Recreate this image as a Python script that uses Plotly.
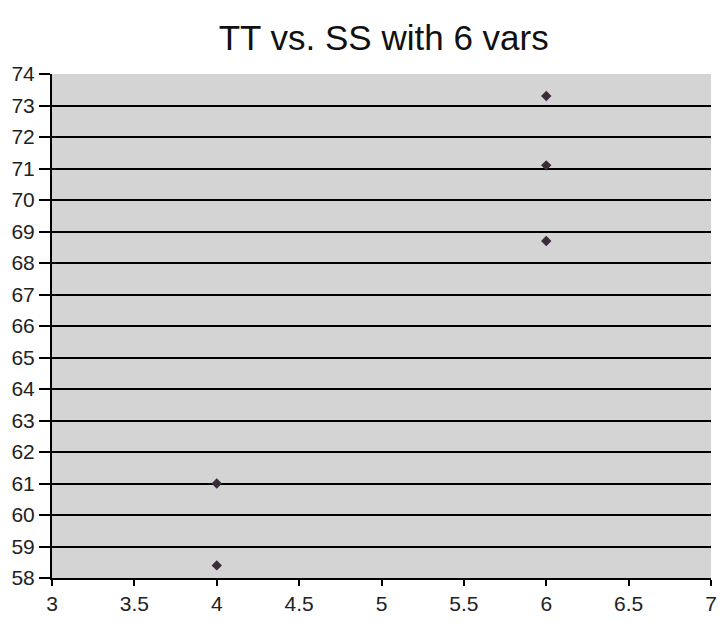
import plotly.graph_objects as go

x_vals = [6, 6, 6, 4, 4]
y_vals = [73.3, 71.1, 68.7, 61.0, 58.4]
title_text = "TT vs. SS with 6 vars"

fig = go.Figure()
fig.add_trace(go.Scatter(
    x=x_vals, y=y_vals, mode="markers",
    marker=dict(symbol="diamond", size=8, color="#3a2c38",
                line=dict(width=0)),
    showlegend=False, cliponaxis=False,
))

fig.update_layout(
    width=724, height=622,
    margin=dict(l=52, r=7, t=74, b=43),
    paper_bgcolor="white",
    plot_bgcolor="#d4d4d4",
    font=dict(family="Liberation Sans, Arial, sans-serif", color="#222222", size=21),
    title=dict(text=title_text, x=0.53, xanchor="center",
               y=1 - 38 / 622, yanchor="middle", yref="container",
               font=dict(size=35, color="#111111")),
    xaxis=dict(range=[3, 7], dtick=0.5, tick0=3, showgrid=False, zeroline=False,
               showline=True, linecolor="black", linewidth=2,
               ticks="outside", ticklen=6, tickwidth=2, tickcolor="black",
               tickfont=dict(size=21)),
    yaxis=dict(range=[58, 74], dtick=1, tick0=58, showgrid=True,
               gridcolor="black", gridwidth=2, zeroline=False,
               showline=True, linecolor="black", linewidth=2,
               ticks="outside", ticklen=11, tickwidth=2, tickcolor="black",
               tickfont=dict(size=21)),
)

fig.write_html("out.html")
